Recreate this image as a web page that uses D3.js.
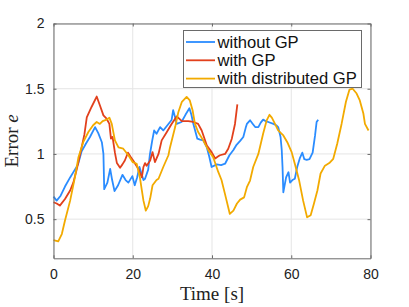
<!DOCTYPE html>
<html>
<head>
<meta charset="utf-8">
<script src="https://cdn.jsdelivr.net/npm/d3@7"></script>
<style>
  body { margin: 0; background: #fff; }
  svg { display: block; }
</style>
</head>
<body>
<div id="chart"></div>
<script>
// values: [time s, error]
let withoutGP = [
  [0,0.673],[0.8,0.642],[1.8,0.68],[2.9,0.75],[4.2,0.82],[5.4,0.88],[6.2,0.92],[7.1,1.02],
  [8.2,1.08],[9.2,1.13],[10.5,1.206],[11.3,1.16],[12.2,1.09],[12.6,1.0],[12.8,0.73],[13.6,0.78],
  [14.3,0.886],[14.8,0.8],[15.4,0.715],[16.3,0.76],[17.4,0.84],[18.2,0.8],[18.9,0.78],[19.9,0.83],
  [20.5,0.76],[21.1,0.82],[21.7,0.9],[22.7,0.8],[23.1,0.81],[23.9,0.88],[24.3,0.99],[24.9,1.1],
  [25.4,1.18],[26.0,1.155],[26.9,1.206],[27.7,1.18],[29.0,1.23],[29.8,1.26],[30.2,1.335],[30.7,1.28],
  [31.1,1.23],[32.3,1.245],[33.3,1.3],[34.3,1.35],[34.8,1.3],[35.3,1.23],[36.3,1.117],[37.0,1.11],
  [37.8,1.104],[38.7,1.05],[39.3,0.98],[39.9,0.9],[41.2,0.92],[42.3,0.915],[43.3,0.925],[44.4,0.99],
  [45.4,1.03],[46.2,1.07],[47.1,1.1],[47.9,1.13],[48.5,1.2],[48.8,1.23],[49.6,1.258],[50.3,1.23],
  [50.9,1.206],[51.7,1.206],[52.3,1.24],[52.9,1.263],[53.6,1.25],[54.2,1.245],[55.5,1.23],[56.2,1.22],
  [56.7,1.206],[57.3,1.13],[57.6,1.03],[57.8,0.9],[58.0,0.706],[58.7,0.82],[59.3,0.86],[59.7,0.78],
  [60.3,0.8],[60.9,0.81],[61.5,0.9],[62.2,0.97],[62.8,1.01],[63.3,0.96],[63.9,0.955],[64.6,0.96],
  [65.4,1.01],[66.0,1.14],[66.4,1.245],[66.8,1.263]
];
let withGP = [
  [0,0.63],[0.8,0.62],[1.6,0.604],[2.9,0.655],[4.2,0.72],[5.0,0.78],[5.9,0.886],[7.1,1.05],
  [7.8,1.15],[8.4,1.28],[9.6,1.36],[10.9,1.44],[11.7,1.373],[12.6,1.296],[13.4,1.27],[14.1,1.23],
  [14.5,1.117],[14.9,1.13],[15.5,1.01],[16.0,0.93],[16.8,0.894],[17.4,0.92],[18.0,0.95],[18.8,1.01],
  [19.4,0.98],[20.1,0.95],[21.4,0.886],[22.3,0.82],[22.7,0.9],[23.1,0.93],[23.5,0.91],[24.4,0.95],
  [25.0,1.014],[25.6,0.937],[26.5,1.0],[27.3,1.104],[28.6,1.168],[29.8,1.23],[31.1,1.288],[32.4,1.252],
  [34.0,1.252],[35.3,1.245],[36.5,1.23],[37.4,1.18],[38.7,1.065],[39.9,1.014],[40.8,0.965],[41.5,0.98],
  [42.0,0.99],[43.3,1.0],[44.1,1.04],[45.0,1.117],[45.8,1.23],[46.4,1.38]
];
let withDistGP = [
  [0,0.34],[1.2,0.33],[2.1,0.386],[2.9,0.49],[4.2,0.642],[5.4,0.82],[6.3,0.975],[7.5,1.09],
  [8.8,1.168],[10.0,1.22],[10.9,1.245],[11.7,1.23],[12.4,1.252],[13.4,1.263],[14.1,1.278],[14.7,1.23],
  [15.5,1.104],[16.4,1.05],[17.6,1.04],[18.9,0.99],[20.0,0.937],[21.0,0.925],[21.8,0.82],[22.3,0.72],
  [22.7,0.642],[23.3,0.565],[23.9,0.6],[24.4,0.66],[25.0,0.76],[26.0,0.8],[26.5,0.81],[27.7,0.9],
  [29.0,0.99],[29.4,1.05],[30.7,1.206],[31.5,1.32],[32.4,1.4],[33.6,1.437],[34.4,1.41],[35.1,1.335],
  [35.7,1.23],[36.5,1.168],[37.8,1.104],[39.1,1.027],[40.3,0.975],[41.6,0.86],[42.4,0.8],[43.3,0.69],
  [44.5,0.54],[45.4,0.565],[46.3,0.62],[47.1,0.65],[48.1,0.667],[48.8,0.745],[49.6,0.796],[50.4,0.9],
  [51.7,1.0],[52.9,1.155],[53.8,1.258],[54.5,1.3],[55.1,1.278],[55.9,1.23],[56.7,1.18],[58.0,1.142],
  [59.0,1.09],[60.1,1.014],[60.9,0.925],[62.0,0.796],[63.0,0.642],[64.0,0.514],[64.9,0.53],[65.7,0.617],
  [66.6,0.72],[67.4,0.85],[68.5,0.91],[69.6,0.93],[70.6,0.963],[71.6,1.078],[72.7,1.23],[73.8,1.4],
  [74.7,1.494],[75.5,1.5],[76.5,1.463],[77.3,1.41],[78.2,1.31],[78.6,1.23],[79.5,1.18]
];
let seriesNames = ["without GP","with GP","with distributed GP"];
let xTicks = [0,20,40,60,80];
let yTicks = [0.5,1,1.5,2];

(function(){
    let W=409, H=307;
    let margin={top:23.5,right:38.5,bottom:48.7,left:53.5};
    let colors=["#2a8cff","#e2401c","#f2aa00"];
    let series=[withoutGP,withGP,withDistGP];

    let svg=d3.select("#chart").append("svg")
        .attr("width",W).attr("height",H);

    let x=d3.scaleLinear().domain([0,80]).range([margin.left,W-margin.right]);
    let y=d3.scaleLinear().domain([0.2,2]).range([H-margin.bottom,margin.top]);

    //grid
    let grid=svg.append("g").attr("stroke","#e5e5e5").attr("stroke-width",1);
    xTicks.forEach(function(t){
        grid.append("line").attr("x1",x(t)).attr("x2",x(t)).attr("y1",y(0.2)).attr("y2",y(2));
    });
    yTicks.forEach(function(t){
        grid.append("line").attr("x1",x(0)).attr("x2",x(80)).attr("y1",y(t)).attr("y2",y(t));
    });

    //lines
    let line=d3.line().x(function(d){return x(d[0])}).y(function(d){return y(d[1])});
    series.forEach(function(s,i){
        svg.append("path").datum(s)
            .attr("fill","none")
            .attr("stroke",colors[i])
            .attr("stroke-width",1.8)
            .attr("stroke-linejoin","round")
            .attr("d",line);
    });

    //axes, matlab style: inward ticks, box
    let axColor="#6a6a6a";
    let tickFont="'Liberation Sans', Arial, sans-serif";
    function styleAxis(g){
        g.select(".domain").attr("stroke",axColor);
        g.selectAll(".tick line").attr("stroke",axColor);
        g.selectAll(".tick text").attr("fill","#222").attr("font-family",tickFont).attr("font-size",14);
    }
    svg.append("g").attr("transform","translate(0,"+y(0.2)+")")
        .call(d3.axisBottom(x).tickValues(xTicks).tickSizeInner(-3).tickSizeOuter(0).tickPadding(11))
        .call(styleAxis);
    svg.append("g").attr("transform","translate("+x(0)+",0)")
        .call(d3.axisLeft(y).tickValues(yTicks).tickFormat(d3.format("")).tickSizeInner(-3).tickSizeOuter(0).tickPadding(9))
        .call(styleAxis);
    svg.append("g").attr("transform","translate(0,"+y(2)+")")
        .call(d3.axisTop(x).tickValues(xTicks).tickSizeInner(-3).tickSizeOuter(0).tickFormat(""))
        .call(styleAxis);
    svg.append("g").attr("transform","translate("+x(80)+",0)")
        .call(d3.axisRight(y).tickValues(yTicks).tickSizeInner(-3).tickSizeOuter(0).tickFormat(""))
        .call(styleAxis);

    //axis labels
    let serif="'Liberation Serif','Times New Roman',serif";
    svg.append("text")
        .attr("x",(x(0)+x(80))/2).attr("y",300)
        .attr("text-anchor","middle")
        .attr("font-family",serif).attr("font-size",19).attr("fill","#222")
        .text("Time [s]");
    let yl=svg.append("text")
        .attr("transform","translate(18,"+((y(0.2)+y(2))/2)+") rotate(-90)")
        .attr("text-anchor","middle")
        .attr("font-family",serif).attr("font-size",19).attr("fill","#222");
    yl.append("tspan").text("Error ");
    yl.append("tspan").attr("font-style","italic").text("e");

    //legend
    let lg=svg.append("g");
    lg.append("rect").attr("x",183.5).attr("y",30.5).attr("width",178).attr("height",57)
        .attr("fill","#fff").attr("stroke",axColor).attr("stroke-width",1);
    seriesNames.forEach(function(n,i){
        let ly=42+i*18.3;
        lg.append("line").attr("x1",186).attr("x2",215).attr("y1",ly).attr("y2",ly)
            .attr("stroke",colors[i]).attr("stroke-width",1.8);
        lg.append("text").attr("x",217.5).attr("y",ly+5.5)
            .attr("font-family",tickFont).attr("font-size",16.6).attr("fill","#111")
            .text(n);
    });
})();
</script>
</body>
</html>
